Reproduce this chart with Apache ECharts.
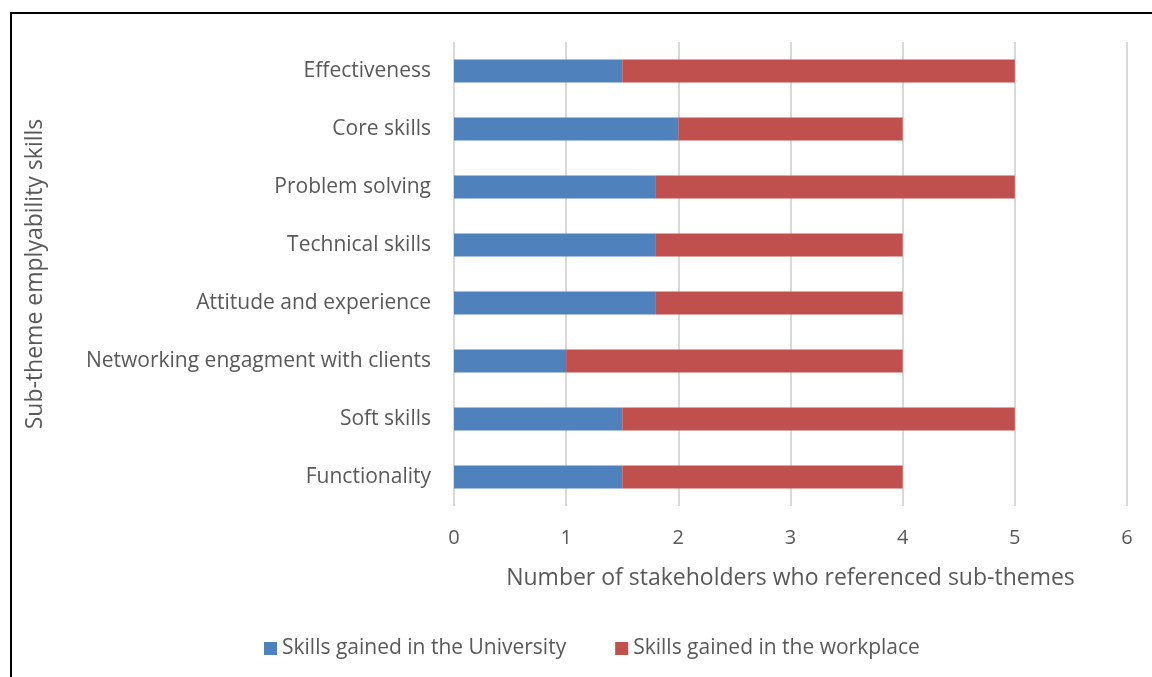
<!DOCTYPE html>
<html>
<head>
<meta charset="utf-8">
<title>Sub-theme employability skills</title>
<script src="https://cdn.jsdelivr.net/npm/echarts@6/dist/echarts.min.js"></script>
<style>
  html, body { margin: 0; padding: 0; background: #fff; }
  #chart { width: 1152px; height: 677px; }
</style>
</head>
<body>
<div id="chart"></div>
<script>
  // categories listed bottom to top (echarts category y axis starts at the bottom)
  const skills = [
    'Functionality',
    'Soft skills',
    'Networking engagment with clients',
    'Attitude and experience',
    'Technical skills',
    'Problem solving',
    'Core skills',
    'Effectiveness'
  ]
  const university = [1.5, 1.5, 1, 1.8, 1.8, 1.8, 2, 1.5]
  const workplace = [2.5, 3.5, 3, 2.2, 2.2, 3.2, 2, 3.5]
  const seriesNames = ['Skills gained in the University', 'Skills gained in the workplace']

  const textColor = '#595959'
  const font = '"Open Sans", sans-serif'

  const chart = echarts.init(document.getElementById('chart'))
  chart.setOption({
    animation: false,
    textStyle: { fontFamily: font },
    graphic: [{
      // outer frame of the figure, it runs off the right and bottom edge
      type: 'rect',
      shape: { x: 11, y: 13, width: 1160, height: 700 },
      style: { fill: 'none', stroke: '#000', lineWidth: 2 },
      silent: true
    }],
    grid: {
      left: 454,
      right: 25,
      top: 42,
      bottom: 171
    },
    legend: {
      left: 259,
      top: 633,
      icon: 'rect',
      itemWidth: 13,
      itemHeight: 13,
      itemGap: 49,
      data: seriesNames,
      textStyle: { color: textColor, fontSize: 21, fontFamily: font }
    },
    xAxis: {
      type: 'value',
      min: 0,
      max: 6,
      interval: 1,
      name: 'Number of stakeholders who referenced sub-themes',
      nameLocation: 'middle',
      nameGap: 61,
      nameTextStyle: { color: textColor, fontSize: 23, fontFamily: font },
      axisLine: { show: false },
      axisTick: { show: false },
      axisLabel: { color: textColor, fontSize: 20, margin: 22, fontFamily: font },
      splitLine: { lineStyle: { color: '#d9d9d9', width: 2 } }
    },
    yAxis: {
      type: 'category',
      data: skills,
      name: 'Sub-theme emplyability skills',
      nameLocation: 'middle',
      nameGap: 407,
      nameRotate: 90,
      nameTextStyle: { color: textColor, fontSize: 23, fontFamily: font },
      axisLine: { show: false },
      axisTick: { show: false },
      axisLabel: { color: textColor, fontSize: 21, margin: 23, fontFamily: font }
    },
    series: [
      {
        name: seriesNames[0],
        type: 'bar',
        stack: 'total',
        barWidth: 23,
        color: '#4f81bd',
        data: university
      },
      {
        name: seriesNames[1],
        type: 'bar',
        stack: 'total',
        barWidth: 23,
        color: '#c0504d',
        data: workplace
      }
    ]
  })
</script>
</body>
</html>
